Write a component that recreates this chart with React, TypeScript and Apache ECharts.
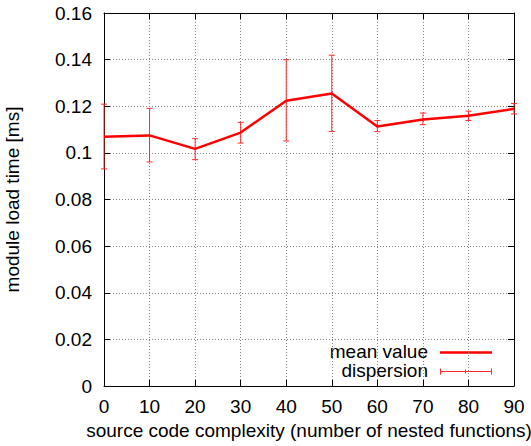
import React, { useEffect, useRef } from "react";
import * as echarts from "echarts";

const complexity = [0, 10, 20, 30, 40, 50, 60, 70, 80, 90];
const meanLoad = [0.1069, 0.1075, 0.1017, 0.1087, 0.1224, 0.1255, 0.1113, 0.1143, 0.1159, 0.1189];
const lowLoad = [0.0931, 0.0961, 0.0971, 0.1042, 0.1051, 0.1092, 0.1091, 0.1121, 0.1139, 0.1167];
const highLoad = [0.1209, 0.1191, 0.1061, 0.1131, 0.14, 0.1419, 0.1139, 0.1171, 0.1179, 0.1212];
const legendLabels = ["mean value", "dispersion"];
const xTitle = "source code complexity (number of nested functions)";
const yTitle = "module load time [ms]";

const FONT = "Liberation Sans";
const FS = 19;

export default function App() {
  const ref = useRef<HTMLDivElement>(null);
  useEffect(() => {
    const chart = echarts.init(ref.current!, null, { renderer: "svg" });
    const meanData = complexity.map((x, i) => [x, meanLoad[i]]);
    const errData = complexity.map((x, i) => [x, lowLoad[i], highLoad[i]]);
    const labelStyle = { fontFamily: FONT, fontSize: FS, color: "#000" };
    const gridLine = { show: true, lineStyle: { color: "#808080", type: [1, 2] as any, width: 1 } };
    chart.setOption({
      animation: false,
      backgroundColor: "#fff",
      grid: { left: 104, right: 17, top: 13, bottom: 60, containLabel: false, outerBoundsMode: "none" },
      xAxis: [
        {
          type: "value", min: 0, max: 90, interval: 10, position: "bottom",
          axisLine: { show: true, onZero: false, lineStyle: { color: "#000", width: 1 } },
          axisTick: { show: true, inside: true, length: 6, lineStyle: { color: "#000" } },
          axisLabel: { ...labelStyle, margin: 11 },
          splitLine: gridLine,
          name: xTitle, nameLocation: "middle", nameGap: 35,
          nameTextStyle: { fontFamily: FONT, fontSize: FS, color: "#000" },
        },
        {
          type: "value", min: 0, max: 90, interval: 10, position: "top",
          axisLine: { show: true, onZero: false, lineStyle: { color: "#000", width: 1 } },
          axisTick: { show: true, inside: true, length: 6, lineStyle: { color: "#000" } },
          axisLabel: { show: false }, splitLine: { show: false },
        },
      ],
      yAxis: [
        {
          type: "value", min: 0, max: 0.16, interval: 0.02, position: "left",
          axisLine: { show: true, onZero: false, lineStyle: { color: "#000", width: 1 } },
          axisTick: { show: true, inside: true, length: 6, lineStyle: { color: "#000" } },
          axisLabel: { ...labelStyle, margin: 12, formatter: (v: number) => String(+v.toFixed(2)) },
          splitLine: gridLine,
          name: yTitle, nameLocation: "middle", nameGap: 82, nameRotate: 90,
          nameTextStyle: { fontFamily: FONT, fontSize: FS, color: "#000" },
        },
        {
          type: "value", min: 0, max: 0.16, interval: 0.02, position: "right",
          axisLine: { show: true, onZero: false, lineStyle: { color: "#000", width: 1 } },
          axisTick: { show: true, inside: true, length: 6, lineStyle: { color: "#000" } },
          axisLabel: { show: false }, splitLine: { show: false },
        },
      ],
      series: [
        {
          type: "custom", name: legendLabels[1], xAxisIndex: 0, yAxisIndex: 0, z: 3,
          data: errData,
          renderItem: (params: any, api: any) => {
            const x = api.value(0);
            const lo = api.coord([x, api.value(1)]);
            const hi = api.coord([x, api.value(2)]);
            const h = 3;
            const st = { stroke: "#ff2a2a", lineWidth: 1 };
            return {
              type: "group",
              children: [
                { type: "line", shape: { x1: lo[0], y1: lo[1], x2: hi[0], y2: hi[1] }, style: st },
                { type: "line", shape: { x1: lo[0] - h, y1: lo[1], x2: lo[0] + h, y2: lo[1] }, style: st },
                { type: "line", shape: { x1: hi[0] - h, y1: hi[1], x2: hi[0] + h, y2: hi[1] }, style: st },
              ],
            };
          },
        },
        {
          type: "line", name: legendLabels[0], xAxisIndex: 0, yAxisIndex: 0, z: 4,
          data: meanData, showSymbol: false, symbol: "none",
          lineStyle: { color: "#ff0000", width: 2.5 },
        },
      ],
      graphic: [
        {
          type: "text", right: 531 - 428, top: 342,
          style: { text: legendLabels[0], fontFamily: FONT, fontSize: FS, fill: "#000", align: "right" },
        },
        {
          type: "text", right: 531 - 428, top: 361,
          style: { text: legendLabels[1], fontFamily: FONT, fontSize: FS, fill: "#000", align: "right" },
        },
        { type: "line", shape: { x1: 440, y1: 352.5, x2: 492, y2: 352.5 }, style: { stroke: "#ff0000", lineWidth: 2.5 } },
        { type: "line", shape: { x1: 440, y1: 371.5, x2: 492, y2: 371.5 }, style: { stroke: "#ff2a2a", lineWidth: 1 } },
        { type: "line", shape: { x1: 440.5, y1: 368.5, x2: 440.5, y2: 374.5 }, style: { stroke: "#ff2a2a", lineWidth: 1 } },
        { type: "line", shape: { x1: 491.5, y1: 368.5, x2: 491.5, y2: 374.5 }, style: { stroke: "#ff2a2a", lineWidth: 1 } },
        { type: "line", shape: { x1: 465.5, y1: 369.5, x2: 465.5, y2: 373.5 }, style: { stroke: "#ff2a2a", lineWidth: 1 } },
      ],
    });
    return () => chart.dispose();
  }, []);
  return <div ref={ref} style={{ position: "absolute", left: 0, top: 0, width: 531, height: 446 }} />;
}
